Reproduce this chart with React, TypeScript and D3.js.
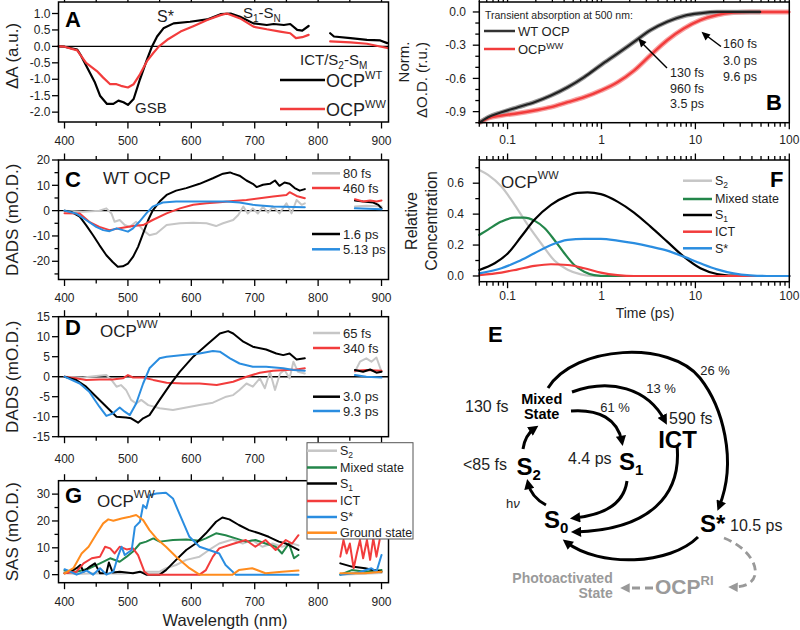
import React from "react";
import * as d3 from "d3";

type Pt = [number, number];
const GAP = NaN;

// ---------- Panel A: normalized transient absorption spectra ----------
const A_WT: Pt[] = [[390.5,0],[400,-0.01],[420,-0.1],[425,-0.25],[440,-0.8],[448,-1.1],[456,-1.5],[467,-1.75],[477,-1.75],[485,-1.65],[493,-1.7],[500,-1.78],[509,-1.6],[519,-1.0],[530,-0.4],[538,0],[546,0.3],[556,0.55],[572,0.7],[598,0.75],[625,0.82],[646,0.98],[662,1.0],[677,0.9],[698,0.7],[719,0.65],[730,0.68],[746,0.65],[756,0.68],[767,0.5],[775,0.48],[785,0.62],[800,GAP],[819,0.4],[825,0.3],[851,0.25],[877,0.2],[898,0.18],[909,0.1]];
const A_WW: Pt[] = [[390.5,0],[400,-0.01],[420,-0.12],[434,-0.5],[451,-0.75],[461,-0.95],[472,-1.15],[482,-1.15],[489,-1.2],[500,-1.25],[509,-1.15],[519,-0.85],[530,-0.45],[540,-0.2],[549,0],[562,0.2],[583,0.45],[604,0.62],[625,0.8],[646,0.95],[656,1.0],[677,0.85],[698,0.6],[719,0.52],[740,0.45],[756,0.4],[765,0.25],[775,0.28],[785,0.35],[800,GAP],[819,0.15],[851,0.12],[877,0.08],[909,-0.05]];

// ---------- Panel B: kinetics at 500 nm ----------
const B_WT: Pt[] = [[0.05,-1.0],[0.062,-0.95],[0.086,-0.906],[0.129,-0.86],[0.193,-0.815],[0.29,-0.755],[0.436,-0.68],[0.655,-0.588],[0.984,-0.48],[1.48,-0.376],[2.22,-0.27],[3.33,-0.164],[5.01,-0.088],[7.52,-0.036],[11.3,-0.012],[17,0],[49,0]];
const B_WW: Pt[] = [[0.05,-1.0],[0.062,-0.96],[0.086,-0.935],[0.129,-0.915],[0.193,-0.89],[0.29,-0.86],[0.436,-0.815],[0.655,-0.77],[0.984,-0.71],[1.48,-0.635],[2.22,-0.53],[3.33,-0.39],[5.01,-0.255],[7.52,-0.15],[11.3,-0.073],[17,-0.027],[25.5,-0.006],[38,0],[100,0]];

// ---------- Panel C: DADS WT OCP ----------
const C_80fs: Pt[] = [[400,0],[429,-0.4],[455,0],[466,0.9],[474,-1.1],[479,-4.4],[487,-3.7],[495,-5.7],[503,-6.4],[513,-4.4],[524,-7.7],[534,-9.7],[545,-9.0],[561,-5.7],[582,-5.0],[603,-4.8],[624,-5.0],[639,-6.1],[650,-5.0],[666,-3.7],[674,-1.7],[682,1.6],[689,-1.1],[697,0.9],[705,-1.1],[713,1.6],[721,-0.8],[729,1.6],[739,-1.1],[750,2.9],[758,-1.1],[766,4.2],[774,2.3],[779,2.9],[800,GAP],[858,1.6],[876,1.9],[900,1.6]];
const C_460fs: Pt[] = [[400,-1],[424,-1.1],[439,-4.4],[455,-6.4],[471,-7.7],[487,-7.0],[508,-6.1],[524,-5.7],[539,-3.7],[561,-1.1],[582,0.9],[603,2.3],[624,2.9],[645,3.3],[666,3.8],[687,4.2],[708,4.9],[729,5.6],[750,6.2],[755,7.3],[766,5.8],[779,4.9],[800,GAP],[858,4.5],[871,3.6],[882,4.0],[892,3.6],[900,4.0]];
const C_16ps: Pt[] = [[400,0],[410,-0.4],[424,-2.4],[434,-5.7],[445,-9.7],[455,-13.6],[466,-17.6],[476,-20.3],[484,-22.2],[492,-22.0],[500,-20.9],[508,-18.3],[516,-14.3],[524,-9.0],[532,-3.7],[539,0],[550,3.6],[561,6.2],[576,7.9],[592,8.9],[613,10.6],[634,12.8],[650,14.6],[661,15.1],[666,14.6],[676,13.8],[687,11.9],[697,10.6],[703,9.3],[713,10.2],[724,10.6],[732,11.9],[739,9.8],[747,11.1],[755,10.6],[763,8.9],[771,7.9],[779,8.5],[800,GAP],[858,4.0],[871,3.6],[887,3.2],[895,2.3],[900,0.9]];
const C_513ps: Pt[] = [[400,0],[418,-1.1],[434,-3.7],[450,-6.4],[461,-7.7],[471,-8.1],[482,-7.0],[492,-7.7],[500,-8.3],[508,-7.0],[518,-4.4],[529,-1.1],[539,1.6],[555,3.2],[576,3.6],[613,3.6],[655,3.6],[676,3.2],[697,2.3],[729,1.6],[779,1.3],[800,GAP],[858,0.9],[900,0.5]];

// ---------- Panel D: DADS OCP-WW ----------
const D_65fs: Pt[] = [[400,0],[429,-0.2],[450,0.2],[466,0.4],[474,-0.8],[482,-2.5],[489,-2.1],[497,-3.3],[505,-5.8],[513,-6.7],[521,-5.8],[532,-7.1],[550,-7.9],[571,-8.3],[592,-7.7],[613,-7.1],[634,-6.5],[655,-5.0],[666,-4.6],[676,-3.3],[687,-1.7],[697,-2.5],[708,-0.4],[716,-2.9],[724,1.25],[732,-3.3],[740,0.8],[747,1.7],[755,-0.4],[761,3.75],[768,1.25],[779,0.8],[800,GAP],[858,1.25],[866,3.75],[876,4.6],[884,3.75],[892,4.8],[900,1.25]];
const D_340fs: Pt[] = [[400,0],[418,-0.4],[434,-0.8],[455,-0.7],[476,-0.7],[492,-0.4],[500,0.4],[508,-0.2],[524,-0.2],[540,-0.8],[561,-1.5],[587,-1.7],[613,-1.7],[640,-2.1],[666,-1.25],[687,0],[708,1.0],[729,1.5],[750,1.7],[766,1.8],[779,2.1],[800,GAP],[858,1.5],[876,1.7],[900,1.5]];
const D_30ps: Pt[] = [[400,0],[418,-0.8],[434,-2.5],[450,-5],[466,-7.5],[482,-10],[497,-10.2],[505,-10.4],[516,-11.5],[524,-10.4],[534,-9.6],[550,-5.8],[566,-2.1],[582,1.25],[603,5],[624,7.9],[645,10.8],[658,11.4],[666,10.8],[682,8.75],[697,7.5],[718,6.8],[734,5.8],[745,5.4],[755,5.8],[766,4.3],[779,4.6],[800,GAP],[858,1.7],[871,1.25],[882,1.8],[892,1.0],[900,1.25]];
const D_93ps: Pt[] = [[400,0],[424,-1.7],[439,-3.75],[455,-7.5],[466,-9.8],[476,-9.2],[487,-7.7],[495,-8.75],[503,-9.6],[513,-6.7],[524,-1.7],[534,2.1],[550,4.6],[561,5],[587,5.4],[613,5.8],[634,6.4],[645,6.25],[661,4.6],[676,3.3],[697,2.5],[718,2.5],[745,2.1],[761,1.7],[779,1.5],[800,GAP],[858,0.4],[876,0],[900,-0.2]];

// ---------- Panel F: concentration profiles ----------
const F_S2: Pt[] = [[0.05,0.686],[0.062,0.654],[0.086,0.578],[0.119,0.46],[0.164,0.33],[0.228,0.21],[0.315,0.10],[0.436,0.04],[0.604,0.01],[0.836,0],[100,0]];
const F_MIX: Pt[] = [[0.05,0.265],[0.062,0.30],[0.086,0.352],[0.119,0.378],[0.151,0.378],[0.193,0.358],[0.247,0.31],[0.315,0.233],[0.402,0.147],[0.513,0.071],[0.655,0.028],[0.836,0.006],[1.16,0],[100,0]];
const F_S1: Pt[] = [[0.05,0.039],[0.073,0.082],[0.101,0.147],[0.14,0.255],[0.193,0.363],[0.29,0.46],[0.436,0.518],[0.557,0.537],[0.711,0.54],[0.984,0.529],[1.48,0.481],[2.22,0.41],[3.33,0.319],[5.01,0.222],[7.52,0.125],[11.3,0.05],[17,0.013],[25.5,0.002],[38.3,0],[100,0]];
const F_ICT: Pt[] = [[0.05,0.006],[0.086,0.022],[0.129,0.043],[0.193,0.065],[0.29,0.076],[0.436,0.071],[0.655,0.05],[0.984,0.022],[1.48,0.006],[2.22,0],[100,0]];
const F_SS: Pt[] = [[0.05,0.017],[0.086,0.05],[0.129,0.093],[0.193,0.147],[0.29,0.2],[0.436,0.233],[0.655,0.24],[0.984,0.24],[1.48,0.229],[2.22,0.212],[3.33,0.19],[5.01,0.164],[7.52,0.125],[11.3,0.082],[17,0.043],[25.5,0.017],[38.3,0.004],[57.5,0],[100,0]];

// ---------- Panel G: SAS OCP-WW ----------
const G_S2: Pt[] = [[400,0.5],[420,0.2],[450,0.5],[490,0.3],[529,1.1],[550,1.1],[560,2.4],[576,3.6],[592,5.5],[613,6.7],[628,9.2],[644,11.6],[665,13.1],[681,11.6],[696,12.9],[712,10.4],[728,11.6],[743,10.4],[759,11.6],[769,10.9],[800,GAP],[835,0],[900,0.6]];
const G_MIX: Pt[] = [[400,1.5],[419,1.1],[440,2.4],[456,4.2],[472,6.1],[487,4.8],[498,6.7],[508,8.6],[519,11.6],[529,12.3],[540,13.5],[550,12.3],[571,12.9],[592,13.1],[613,12.6],[623,13.5],[639,15.4],[654,14.7],[670,13.5],[686,12.3],[701,12.9],[717,11.6],[733,10.4],[743,7.9],[754,11.6],[762,6.1],[769,7.3],[800,GAP],[835,0],[853,1.7],[874,1.1],[900,1.7]];
const G_S1: Pt[] = [[400,0.5],[409,1.1],[419,2.4],[425,3.6],[430,1.1],[440,3.0],[448,4.2],[456,0.5],[466,0.5],[470,4.5],[476,0.8],[487,1.1],[508,0.5],[519,1.1],[529,0],[550,0],[560,1.7],[576,5.5],[592,9.2],[607,11.6],[623,15.4],[639,19.7],[649,21.3],[660,20.6],[675,18.5],[691,16.6],[707,15.4],[722,14.1],[738,12.3],[749,11.6],[759,10.4],[769,9.2],[800,GAP],[835,4.2],[853,3.0],[874,2.4],[900,1.1]];
const G_ICT: Pt[] = [[400,0.5],[419,1.1],[430,4.2],[443,6.1],[456,6.7],[464,10.4],[472,9.8],[479,7.9],[487,10.4],[498,9.4],[508,9.8],[516,7.3],[521,4.2],[526,1.1],[532,0],[613,0],[623,1.7],[634,6.7],[644,9.8],[665,11.4],[686,12.9],[701,10.4],[717,12.9],[733,9.2],[749,12.9],[759,11.6],[769,14.7],[800,GAP],[835,6.7],[840,12.9],[845,7.9],[850,11.6],[856,2.4],[861,7.9],[866,12.9],[871,6.1],[877,12.9],[882,5.5],[887,13.5],[892,6.7],[897,12.9]];
const G_SS: Pt[] = [[400,2],[409,1.1],[419,0],[435,1.5],[445,0],[456,2.4],[466,0],[477,1.1],[485,7.3],[490,10.4],[495,7.3],[506,9.2],[511,17.8],[519,19.7],[524,25.9],[529,24.7],[534,29.6],[545,30.2],[560,30.5],[571,28.4],[581,22.8],[597,14.1],[613,10.4],[628,9.2],[644,7.9],[654,3.6],[670,0],[769,0],[800,GAP],[835,0],[863,0.7],[884,2.4],[892,1.1],[900,7.3]];
const G_GS: Pt[] = [[400,0.5],[414,2.4],[427,7.9],[438,10.4],[451,15.4],[461,19.1],[469,20.6],[477,20.1],[490,20.9],[503,21.6],[513,22.2],[524,20.3],[534,16.6],[545,13.5],[560,10.4],[576,6.7],[597,2.4],[613,0],[665,0],[675,1.7],[696,2.4],[717,0.5],[743,1.1],[769,1.5],[800,GAP],[835,0.5],[874,0.5],[900,1.1]];

// ---------- tick values ----------
const WL_MAJ = [400, 500, 600, 700, 800, 900];
const WL_MIN = [450, 550, 650, 750, 850];
const D_XLAB = [400, 500, 600, 700]; // 800/900 hidden behind panel G legend
const LOG_MAJ = [0.1, 1, 10, 100];
const A_YT = [-2, -1.5, -1, -0.5, 0, 0.5, 1];
const B_YT = [-0.9, -0.6, -0.3, 0];
const B_YM = [-1.0, -0.8, -0.7, -0.5, -0.4, -0.2, -0.1];
const C_YT = [-20, -10, 0, 10, 20];
const C_YM = [-25, -15, -5, 5, 15];
const D_YT = [-15, -10, -5, 0, 5, 10, 15];
const F_YT = [0, 0.2, 0.4, 0.6];
const F_YM = [0.1, 0.3, 0.5, 0.7];
const G_YT = [0, 10, 20, 30];
const G_YM = [5, 15, 25];

const FONT = "Arial, 'Liberation Sans', Helvetica, sans-serif";
const RED = "#f23c3c";
const BLUE = "#2a8de0";
const GREEN = "#23864a";
const ORANGE = "#ff8c1e";
const LGRAY = "#c6c6c6";
const TXT = "#1e1e1e";

const WL_L = 58.5, WL_R = 388.5;
const LOG_L = 479.3, LOG_R = 789.3;
const wl = d3.scaleLinear().domain([390.5, 911]).range([WL_L, WL_R]);
const tl = d3.scaleLog().domain([0.05, 100]).range([LOG_L, LOG_R]);

const yA = d3.scaleLinear().domain([-2.3, 1.35]).range([122, 2]);
const yC = d3.scaleLinear().domain([-27.2, 20]).range([279.5, 160]);
const yD = d3.scaleLinear().domain([-15, 15]).range([436.7, 316.7]);
const yG = d3.scaleLinear().domain([-3, 35]).range([582.7, 480.7]);
const yB = d3.scaleLinear().domain([-1.0, 0.09]).range([122.7, 2]);
const yF = d3.scaleLinear().domain([-0.037, 0.75]).range([281.7, 160]);

const logMinor: number[] = [];
[0.01, 0.1, 1, 10].forEach((d) => {
  for (let k = 2; k <= 9; k++) {
    const v = +(k * d).toPrecision(3);
    if (v >= 0.05 && v <= 100) logMinor.push(v);
  }
});

function mk(x: any, y: any, curve: any = d3.curveLinear) {
  return d3
    .line<Pt>()
    .defined((d) => Number.isFinite(d[1]))
    .x((d) => x(d[0]))
    .y((d) => y(d[1]))
    .curve(curve);
}

function Series({ data, x, y, color, w = 2, curve }: any) {
  return (
    <path d={mk(x, y, curve)(data) || ""} fill="none" stroke={color} strokeWidth={w} strokeLinejoin="round" strokeLinecap="round" />
  );
}

function Frame({ x, y, L, R, T, Bt, xMaj, xMin, xLabs, xLabY, xFmt, yMaj, yMin, yFmt, yLabX }: any) {
  const t: any[] = [];
  xMaj.forEach((v: number) => {
    t.push(<line key={"xb" + v} x1={x(v)} x2={x(v)} y1={Bt} y2={Bt + 6.5} />);
    t.push(<line key={"xt" + v} x1={x(v)} x2={x(v)} y1={T} y2={T - 6.5} />);
  });
  xMin.forEach((v: number) => {
    t.push(<line key={"mb" + v} x1={x(v)} x2={x(v)} y1={Bt} y2={Bt + 4} />);
    t.push(<line key={"mt" + v} x1={x(v)} x2={x(v)} y1={T} y2={T - 4} />);
  });
  yMaj.forEach((v: number) => t.push(<line key={"y" + v} x1={L} x2={L - 6.5} y1={y(v)} y2={y(v)} />));
  (yMin || []).forEach((v: number) => t.push(<line key={"ym" + v} x1={L} x2={L - 4} y1={y(v)} y2={y(v)} />));
  const labs = xLabs || xMaj;
  return (
    <g>
      <g stroke="#000" strokeWidth={1.3} fill="none">
        {t}
        <rect x={L} y={T} width={R - L} height={Bt - T} strokeWidth={1.5} />
      </g>
      <g fontFamily={FONT} fontSize={12} fill={TXT}>
        {xFmt &&
          labs.map((v: number) => (
            <text key={"xl" + v} x={x(v)} y={xLabY} dy="0.35em" textAnchor="middle">
              {xFmt(v)}
            </text>
          ))}
        {yMaj.map((v: number) => (
          <text key={"yl" + v} x={yLabX} y={y(v)} dy="0.35em" textAnchor="end">
            {yFmt(v)}
          </text>
        ))}
      </g>
    </g>
  );
}

function Zero({ y, L, R }: any) {
  return <line x1={L} x2={R} y1={y(0)} y2={y(0)} stroke="#000" strokeWidth={1.4} />;
}

function LegItem({ x1, x2, y, color, children, fs = 13 }: any) {
  return (
    <g>
      <line x1={x1} x2={x2} y1={y} y2={y} stroke={color} strokeWidth={2.5} />
      <text x={x2 + 3} y={y} dy="0.35em" fontFamily={FONT} fontSize={fs} fill={TXT}>
        {children}
      </text>
    </g>
  );
}

const f1 = (v: number) => v.toFixed(1);
const fi = (v: number) => String(v);
const flog = (v: number) => String(v);

function YTitle({ x, y, children, fs = 17 }: any) {
  return (
    <text transform={`translate(${x},${y}) rotate(-90)`} textAnchor="middle" dy="0.35em" fontFamily={FONT} fontSize={fs} fill={TXT}>
      {children}
    </text>
  );
}

function Letter({ x, y, children }: any) {
  return (
    <text x={x} y={y} fontFamily={FONT} fontSize={22} fontWeight="bold" fill="#000">
      {children}
    </text>
  );
}

function Diagram() {
  const bold = { fontFamily: FONT, fontWeight: "bold" as const, fill: "#000" };
  const reg = { fontFamily: FONT, fill: TXT };
  const arrow = { fill: "none", stroke: "#000", strokeWidth: 3, markerEnd: "url(#ah)" };
  const garrow = { fill: "none", stroke: "#999", strokeWidth: 2.8, strokeDasharray: "8 5", markerEnd: "url(#ahg)" };
  return (
    <g>
      <defs>
        <marker id="ah" viewBox="0 0 10 10" refX="6" refY="5" markerWidth="3.6" markerHeight="3.4" orient="auto">
          <path d="M0,0L10,5L0,10z" fill="#000" />
        </marker>
        <marker id="ahg" viewBox="0 0 10 10" refX="6" refY="5" markerWidth="3.6" markerHeight="3.4" orient="auto">
          <path d="M0,0L10,5L0,10z" fill="#999" />
        </marker>
      </defs>
      <path d="M546,505 Q531,497 528,483" {...arrow} />
      <path d="M523,449 Q525,435 535,428" {...arrow} />
      <path d="M571,411 C599,409 618,419 622,442" {...arrow} />
      <path d="M572,392 C610,378 648,388 665,421" {...arrow} />
      <path d="M548,388 C575,345 670,340 700,378 C722,406 738,460 719,507" {...arrow} />
      <path d="M627,481 C624,503 605,515 574,518" {...arrow} />
      <path d="M677,445 C682,495 650,530 575,532" {...arrow} />
      <path d="M698,537 C670,565 600,568 566,542" {...arrow} />
      <path d="M724,538 C760,552 768,588 732,587" {...garrow} />
      <path d="M653,588 L624,588" {...garrow} />

      <text x={541.7} y={403.5} textAnchor="middle" fontSize={14.5} {...bold}>Mixed</text>
      <text x={541.7} y={418.5} textAnchor="middle" fontSize={14.5} {...bold}>State</text>
      <text x={465} y={412} fontSize={16} {...reg}>130 fs</text>
      <text x={615} y={411.5} textAnchor="middle" fontSize={13} {...reg}>61 %</text>
      <text x={661} y={393} textAnchor="middle" fontSize={13} {...reg}>13 %</text>
      <text x={715} y={375} textAnchor="middle" fontSize={13} {...reg}>26 %</text>
      <text x={669} y={424} fontSize={16} {...reg}>590 fs</text>
      <text x={677.5} y={448} textAnchor="middle" fontSize={24} {...bold}>ICT</text>
      <text x={463} y={470} fontSize={16} {...reg}>&lt;85 fs</text>
      <text x={516.5} y={475} fontSize={24} {...bold}>
        S<tspan fontSize={15} dy={5}>2</tspan>
      </text>
      <text x={568} y={464} fontSize={16} {...reg}>4.4 ps</text>
      <text x={619} y={470} fontSize={24} {...bold}>
        S<tspan fontSize={15} dy={5}>1</tspan>
      </text>
      <text x={506} y={508} fontSize={13} {...reg}>
        h<tspan fontStyle="italic">ν</tspan>
      </text>
      <text x={544} y={528} fontSize={24} {...bold}>
        S<tspan fontSize={15} dy={5}>0</tspan>
      </text>
      <text x={700} y={532} fontSize={24} {...bold}>S*</text>
      <text x={730} y={531} fontSize={16} {...reg}>10.5 ps</text>
      <text x={612.7} y={582.5} textAnchor="end" fontSize={14} fontFamily={FONT} fontWeight="bold" fill="#9a9a9a">Photoactivated</text>
      <text x={612.7} y={598} textAnchor="end" fontSize={14} fontFamily={FONT} fontWeight="bold" fill="#9a9a9a">State</text>
      <text x={655} y={594} fontSize={21} fontFamily={FONT} fontWeight="bold" fill="#9a9a9a">
        OCP<tspan fontSize={13} dy={-9}>RI</tspan>
      </text>
    </g>
  );
}

export default function App() {
  const mono = d3.curveMonotoneX;
  return (
    <svg width={800} height={630} style={{ position: "fixed", left: 0, top: 0, background: "#fff" }} xmlns="http://www.w3.org/2000/svg">
      <rect x={0} y={0} width={800} height={630} fill="#fff" />

      {/* ---------- Panel A ---------- */}
      <Zero y={yA} L={WL_L} R={WL_R} />
      <Series data={A_WT} x={wl} y={yA} color="#000" w={2.2} />
      <Series data={A_WW} x={wl} y={yA} color={RED} w={2.2} />
      <Frame x={wl} y={yA} L={WL_L} R={WL_R} T={2} Bt={122} xMaj={WL_MAJ} xMin={WL_MIN} xLabY={140.7} xFmt={fi} yMaj={A_YT} yFmt={f1} yLabX={50.5} />
      <Letter x={65} y={27}>A</Letter>
      <YTitle x={12} y={56}>ΔA (a.u.)</YTitle>
      <text x={157} y={22} fontFamily={FONT} fontSize={16} fill={TXT}>S*</text>
      <text x={243} y={18} fontFamily={FONT} fontSize={15} fill={TXT}>
        S<tspan fontSize={10} dy={4}>1</tspan><tspan dy={-4}>-S</tspan><tspan fontSize={10} dy={4}>N</tspan>
      </text>
      <text x={300} y={65} fontFamily={FONT} fontSize={15} fill={TXT}>
        ICT/S<tspan fontSize={10} dy={4}>2</tspan><tspan dy={-4}>-S</tspan><tspan fontSize={10} dy={4}>M</tspan>
      </text>
      <text x={135} y={113} fontFamily={FONT} fontSize={15} fill={TXT}>GSB</text>
      <line x1={280} x2={325} y1={80} y2={80} stroke="#000" strokeWidth={2.5} />
      <text x={326} y={86.5} fontFamily={FONT} fontSize={18} fill={TXT}>
        OCP<tspan fontSize={11} dy={-8}>WT</tspan>
      </text>
      <line x1={280} x2={325} y1={109} y2={109} stroke={RED} strokeWidth={2.5} />
      <text x={326} y={115.5} fontFamily={FONT} fontSize={18} fill={TXT}>
        OCP<tspan fontSize={11} dy={-8}>WW</tspan>
      </text>

      {/* ---------- Panel B ---------- */}
      <path d={mk(tl, yB, mono)(B_WW) || ""} fill="none" stroke="#f7a3a3" strokeWidth={5} />
      <path d={mk(tl, yB, mono)(B_WT) || ""} fill="none" stroke="#9a9a9a" strokeWidth={4.5} />
      <Series data={B_WW} x={tl} y={yB} color={RED} w={2.4} curve={mono} />
      <Series data={B_WT} x={tl} y={yB} color="#222" w={2.2} curve={mono} />
      <Frame x={tl} y={yB} L={LOG_L} R={LOG_R} T={2} Bt={122.7} xMaj={LOG_MAJ} xMin={logMinor} xLabY={140} xFmt={flog} yMaj={B_YT} yMin={B_YM} yFmt={f1} yLabX={466} />
      <Letter x={766} y={110}>B</Letter>
      <YTitle x={404} y={62} fs={15}>Norm.</YTitle>
      <YTitle x={422} y={80} fs={15}>ΔO.D. (r.u.)</YTitle>
      <text x={485} y={19} fontFamily={FONT} fontSize={10.5} fill={TXT}>Transient absorption at 500 nm:</text>
      <LegItem x1={484} x2={515} y={31} color="#333">WT OCP</LegItem>
      <line x1={484} x2={515} y1={49} y2={49} stroke={RED} strokeWidth={2.5} />
      <text x={518} y={49} dy="0.35em" fontFamily={FONT} fontSize={13} fill={TXT}>
        OCP<tspan fontSize={9} dy={-5}>WW</tspan>
      </text>
      <g stroke="#000" strokeWidth={1.5} fill="none">
        <line x1={721} x2={705} y1={46.5} y2={34.5} />
        <line x1={667} x2={641} y1={68} y2={42} />
      </g>
      <path d="M701.5,31.7 L710.5,34.5 L705.5,40.5 Z" fill="#000" />
      <path d="M638.3,38.3 L646.5,42 L641,47.5 Z" fill="#000" />
      <g fontFamily={FONT} fontSize={12.5} fill={TXT}>
        <text x={723} y={48}>160 fs</text>
        <text x={723} y={65}>3.0 ps</text>
        <text x={723} y={81}>9.6 ps</text>
        <text x={670} y={77}>130 fs</text>
        <text x={670} y={93}>960 fs</text>
        <text x={670} y={108}>3.5 ps</text>
      </g>

      {/* ---------- Panel C ---------- */}
      <Zero y={yC} L={WL_L} R={WL_R} />
      <Series data={C_80fs} x={wl} y={yC} color={LGRAY} />
      <Series data={C_16ps} x={wl} y={yC} color="#000" />
      <Series data={C_460fs} x={wl} y={yC} color={RED} />
      <Series data={C_513ps} x={wl} y={yC} color={BLUE} />
      <Frame x={wl} y={yC} L={WL_L} R={WL_R} T={160} Bt={279.5} xMaj={WL_MAJ} xMin={WL_MIN} xLabY={298} xFmt={fi} yMaj={C_YT} yMin={C_YM} yFmt={fi} yLabX={50} />
      <Letter x={65} y={187}>C</Letter>
      <text x={103} y={183.5} fontFamily={FONT} fontSize={17} fill={TXT}>WT OCP</text>
      <YTitle x={12} y={219.7}>DADS (mO.D.)</YTitle>
      <LegItem x1={312} x2={340} y={173.3} color={LGRAY}>80 fs</LegItem>
      <LegItem x1={312} x2={340} y={188} color={RED}>460 fs</LegItem>
      <LegItem x1={312} x2={340} y={234} color="#000">1.6 ps</LegItem>
      <LegItem x1={312} x2={340} y={249.3} color={BLUE}>5.13 ps</LegItem>

      {/* ---------- Panel D ---------- */}
      <Zero y={yD} L={WL_L} R={WL_R} />
      <Series data={D_65fs} x={wl} y={yD} color={LGRAY} />
      <Series data={D_340fs} x={wl} y={yD} color={RED} />
      <Series data={D_30ps} x={wl} y={yD} color="#000" />
      <Series data={D_93ps} x={wl} y={yD} color={BLUE} />
      <Frame x={wl} y={yD} L={WL_L} R={WL_R} T={316.7} Bt={436.7} xMaj={WL_MAJ} xMin={WL_MIN} xLabs={D_XLAB} xLabY={458.7} xFmt={fi} yMaj={D_YT} yFmt={fi} yLabX={50} />
      <Letter x={65} y={335}>D</Letter>
      <text x={100} y={337} fontFamily={FONT} fontSize={17} fill={TXT}>
        OCP<tspan fontSize={11} dy={-9}>WW</tspan>
      </text>
      <YTitle x={12} y={376.7}>DADS (mO.D.)</YTitle>
      <LegItem x1={313} x2={340} y={333} color={LGRAY}>65 fs</LegItem>
      <LegItem x1={313} x2={340} y={348} color={RED}>340 fs</LegItem>
      <LegItem x1={313} x2={340} y={396.7} color="#000">3.0 ps</LegItem>
      <LegItem x1={313} x2={340} y={411} color={BLUE}>9.3 ps</LegItem>

      {/* ---------- Panel F ---------- */}
      <Series data={F_S2} x={tl} y={yF} color={LGRAY} w={2.2} curve={mono} />
      <Series data={F_MIX} x={tl} y={yF} color={GREEN} w={2.2} curve={mono} />
      <Series data={F_S1} x={tl} y={yF} color="#000" w={2.2} curve={mono} />
      <Series data={F_ICT} x={tl} y={yF} color={RED} w={2.2} curve={mono} />
      <Series data={F_SS} x={tl} y={yF} color={BLUE} w={2.2} curve={mono} />
      <Frame x={tl} y={yF} L={LOG_L} R={LOG_R} T={160} Bt={281.7} xMaj={LOG_MAJ} xMin={logMinor} xLabY={296} xFmt={flog} yMaj={F_YT} yMin={F_YM} yFmt={f1} yLabX={464} />
      <Letter x={770} y={187}>F</Letter>
      <text x={501} y={188} fontFamily={FONT} fontSize={17} fill={TXT}>
        OCP<tspan fontSize={11} dy={-9}>WW</tspan>
      </text>
      <YTitle x={411} y={221} fs={16}>Relative</YTitle>
      <YTitle x={431} y={221} fs={16}>Concentration</YTitle>
      <text x={645} y={313} dy="0.35em" textAnchor="middle" fontFamily={FONT} fontSize={14} fill={TXT}>Time (ps)</text>
      <LegItem x1={683} x2={712} y={180.7} color={LGRAY} fs={12.5}>
        S<tspan fontSize={8.5} dy={3}>2</tspan>
      </LegItem>
      <LegItem x1={683} x2={712} y={199} color={GREEN} fs={12.5}>Mixed state</LegItem>
      <LegItem x1={683} x2={712} y={215} color="#000" fs={12.5}>
        S<tspan fontSize={8.5} dy={3}>1</tspan>
      </LegItem>
      <LegItem x1={683} x2={712} y={231.7} color={RED} fs={12.5}>ICT</LegItem>
      <LegItem x1={683} x2={712} y={248.3} color={BLUE} fs={12.5}>S*</LegItem>

      {/* ---------- Panel G ---------- */}
      <Series data={G_S2} x={wl} y={yG} color={LGRAY} />
      <Series data={G_MIX} x={wl} y={yG} color={GREEN} />
      <Series data={G_S1} x={wl} y={yG} color="#000" />
      <Series data={G_ICT} x={wl} y={yG} color={RED} />
      <Series data={G_SS} x={wl} y={yG} color={BLUE} />
      <Series data={G_GS} x={wl} y={yG} color={ORANGE} />
      <Frame x={wl} y={yG} L={WL_L} R={WL_R} T={480.7} Bt={582.7} xMaj={WL_MAJ} xMin={WL_MIN} xLabY={601.7} xFmt={fi} yMaj={G_YT} yMin={G_YM} yFmt={fi} yLabX={50} />
      <Letter x={65} y={503}>G</Letter>
      <text x={97} y={507} fontFamily={FONT} fontSize={17} fill={TXT}>
        OCP<tspan fontSize={11} dy={-9}>WW</tspan>
      </text>
      <YTitle x={12} y={531.7}>SAS (mO.D.)</YTitle>
      <text x={225} y={620} dy="0.35em" textAnchor="middle" fontFamily={FONT} fontSize={16.5} fill={TXT}>Wavelength (nm)</text>
      <rect x={307} y={442.7} width={106} height={96.3} fill="#fff" stroke="#555" strokeWidth={1} />
      <LegItem x1={307} x2={337} y={450.7} color={LGRAY} fs={12.5}>
        S<tspan fontSize={8.5} dy={3}>2</tspan>
      </LegItem>
      <LegItem x1={307} x2={337} y={467.5} color={GREEN} fs={12.5}>Mixed state</LegItem>
      <LegItem x1={307} x2={337} y={483.5} color="#000" fs={12.5}>
        S<tspan fontSize={8.5} dy={3}>1</tspan>
      </LegItem>
      <LegItem x1={307} x2={337} y={501} color={RED} fs={12.5}>ICT</LegItem>
      <LegItem x1={307} x2={337} y={517} color={BLUE} fs={12.5}>S*</LegItem>
      <LegItem x1={307} x2={337} y={532.7} color={ORANGE} fs={12.5}>Ground state</LegItem>

      {/* ---------- Panel E ---------- */}
      <Letter x={488} y={342}>E</Letter>
      <Diagram />
    </svg>
  );
}
